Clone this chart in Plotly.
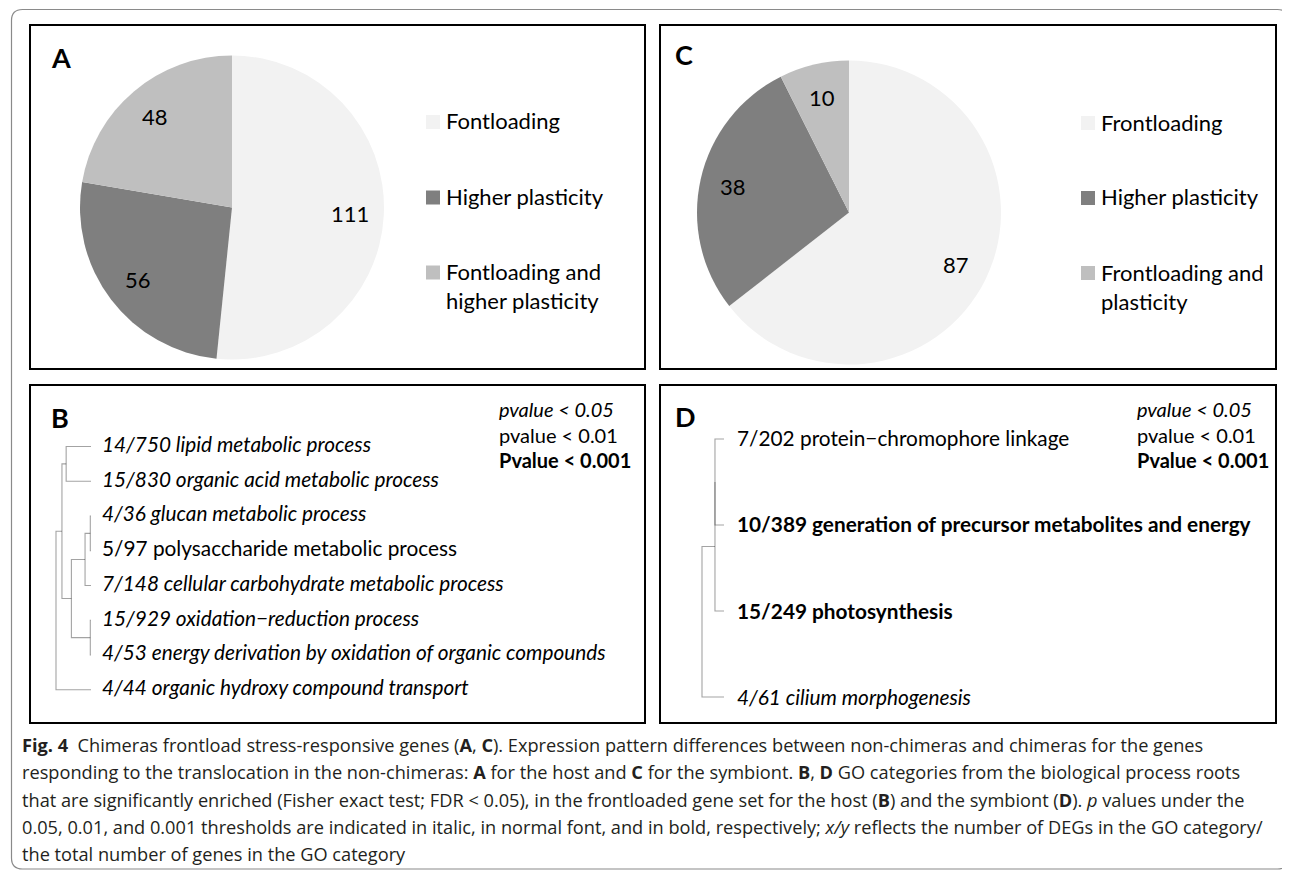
import math
import plotly.graph_objects as go

# The page body has an 8px margin, so the figure is laid out in page pixels
# and shifted by that offset.
OFF = 8
W, H = 1282, 863

# ---------------- data ----------------
pie_labels_A = ["Fontloading", "Higher plasticity", "Fontloading and higher plasticity"]
legend_text_A = ["Fontloading", "Higher plasticity", "Fontloading and<br>higher plasticity"]
pie_values_A = [111, 56, 48]

pie_labels_C = ["Frontloading", "Higher plasticity", "Frontloading and plasticity"]
legend_text_C = ["Frontloading", "Higher plasticity", "Frontloading and<br>plasticity"]
pie_values_C = [87, 38, 10]

slice_colors = ["#f2f2f2", "#7f7f7f", "#bfbfbf"]

go_terms_B = [
    "14/750 lipid metabolic process",
    "15/830 organic acid metabolic process",
    "4/36 glucan metabolic process",
    "5/97 polysaccharide metabolic process",
    "7/148 cellular carbohydrate metabolic process",
    "15/929 oxidation\u2212reduction process",
    "4/53 energy derivation by oxidation of organic compounds",
    "4/44 organic hydroxy compound transport",
]
go_pvalue_level_B = [0.05, 0.05, 0.05, 0.01, 0.05, 0.05, 0.05, 0.05]
# (child a, child b, merge height); leaves 0..7, internal nodes numbered from 8
merges_B = [(0, 1, 0.71), (2, 3, 0.02), (9, 4, 0.17), (5, 6, 0.02),
            (10, 11, 0.56), (8, 12, 0.83), (13, 7, 1.0)]

go_terms_D = [
    "7/202 protein\u2212chromophore linkage",
    "10/389 generation of precursor metabolites and energy",
    "15/249 photosynthesis",
    "4/61 cilium morphogenesis",
]
go_pvalue_level_D = [0.01, 0.001, 0.001, 0.05]
merges_D = [(0, 1, 0.41), (4, 2, 0.41), (5, 3, 1.0)]

pvalue_legend_text = ["pvalue &lt; 0.05", "pvalue &lt; 0.01", "Pvalue &lt; 0.001"]
pvalue_legend_level = [0.05, 0.01, 0.001]

caption_lines = [
    "<b>Fig. 4</b>\u00a0\u00a0Chimeras frontload stress-responsive genes (<b>A</b>, <b>C</b>). Expression pattern differences between non-chimeras and chimeras for the genes",
    "responding to the translocation in the non-chimeras: <b>A</b> for the host and <b>C</b> for the symbiont. <b>B</b>, <b>D</b> GO categories from the biological process roots",
    "that are significantly enriched (Fisher exact test; FDR &lt; 0.05), in the frontloaded gene set for the host (<b>B</b>) and the symbiont (<b>D</b>). <i>p</i> values under the",
    "0.05, 0.01, and 0.001 thresholds are indicated in italic, in normal font, and in bold, respectively; <i>x/y</i> reflects the number of DEGs in the GO category/",
    "the total number of genes in the GO category",
]

# ---------------- helpers ----------------
FONT = "Lato, 'Open Sans', sans-serif"
CAP_FONT = "'Open Sans', 'Noto Sans', sans-serif"


def X(px):
    return (px - OFF) / W


def Y(py):
    return 1 - (py - OFF) / H


def styled(text, level):
    if level <= 0.001:
        return "<b>" + text + "</b>"
    if level <= 0.01:
        return text
    return "<i>" + text + "</i>"


fig = go.Figure()
annotations = []
shapes = []

# ---------------- outer frame ----------------
x0, y0, x1, y1, r = 11.5, 9.5, 1288.5, 869.0, 11.0
pts = [("M", x0 + r, y0), ("L", x1 - r, y0), ("Q", x1, y0, x1, y0 + r), ("L", x1, y1 - r),
       ("Q", x1, y1, x1 - r, y1), ("L", x0 + r, y1), ("Q", x0, y1, x0, y1 - r),
       ("L", x0, y0 + r), ("Q", x0, y0, x0 + r, y0)]
path = ""
for p in pts:
    coords = p[1:]
    s = []
    for i in range(0, len(coords), 2):
        s.append(f"{X(coords[i]):.5f},{Y(coords[i+1]):.5f}")
    path += p[0] + " " + " ".join(s) + " "
path += "Z"
shapes.append(dict(type="path", xref="paper", yref="paper", path=path,
                   line=dict(color="#8a8a8a", width=1.2), layer="below"))

# ---------------- panel boxes ----------------
panels = {"A": (30, 25, 645, 369), "C": (660, 25, 1276, 369),
          "B": (30, 385, 645, 723), "D": (660, 385, 1276, 723)}
for k, (a, b, c, d) in panels.items():
    shapes.append(dict(type="rect", xref="paper", yref="paper",
                       x0=X(a), x1=X(c), y0=Y(d), y1=Y(b),
                       line=dict(color="black", width=2)))

letter_pos = {"A": (61, 57), "C": (684, 55), "B": (60, 417), "D": (685, 416)}
for k, (lx, ly) in letter_pos.items():
    annotations.append(dict(text="<b>" + k + "</b>", x=X(lx), y=Y(ly), xref="paper", yref="paper",
                            showarrow=False, xanchor="center", yanchor="middle",
                            font=dict(family=FONT, size=27, color="black")))


# ---------------- pies ----------------
def add_pie(labels, values, legend_text, cx, cy, rad, leg_x_sq, leg_x_txt, leg_rows):
    fig.add_trace(go.Pie(
        labels=labels, values=values, sort=False, direction="clockwise", rotation=0,
        marker=dict(colors=slice_colors, line=dict(width=0)),
        textinfo="none", hoverinfo="label+value", showlegend=False,
        domain=dict(x=[X(cx - rad), X(cx + rad)], y=[Y(cy + rad), Y(cy - rad)]),
    ))
    total = float(sum(values))
    cum = 0.0
    for v in values:
        mid = (cum + v / 2.0) / total * 2 * math.pi
        lx = cx + 0.78 * rad * math.sin(mid)
        ly = cy - 0.78 * rad * math.cos(mid)
        cum += v
        annotations.append(dict(text=str(v), x=X(lx), y=Y(ly), xref="paper", yref="paper",
                                showarrow=False, xanchor="center", yanchor="middle",
                                font=dict(family=FONT, size=22, color="black")))
    for txt, col, ry in zip(legend_text, slice_colors, leg_rows):
        shapes.append(dict(type="rect", xref="paper", yref="paper",
                           x0=X(leg_x_sq), x1=X(leg_x_sq + 14), y0=Y(ry + 7), y1=Y(ry - 7),
                           fillcolor=col, line=dict(width=0)))
        annotations.append(dict(text=txt, x=X(leg_x_txt), y=Y(ry - 16.5), xref="paper", yref="paper",
                                showarrow=False, xanchor="left", yanchor="top", align="left",
                                font=dict(family=FONT, size=22, color="black")))


add_pie(pie_labels_A, pie_values_A, legend_text_A, 232, 207.5, 152, 426, 444, [122, 197.5, 272.5])
add_pie(pie_labels_C, pie_values_C, legend_text_C, 849, 212.5, 152, 1081, 1099, [123, 198, 273])

# ---------------- dendrograms ----------------
LINE_COL = "rgba(25,25,25,0.40)"
layout_axes = {}


def add_tree(terms, levels, merges, xa, ya, tip_px, px_per_h, y0_px, dy_px,
             hrange, krange, text_dx, text_dy):
    n = len(terms)
    ys = {i: float(i) for i in range(n)}
    hs = {i: 0.0 for i in range(n)}
    for j, (a, b, h) in enumerate(merges):
        node = n + j
        fig.add_trace(go.Scatter(
            x=[hs[a], h, h, hs[b]], y=[ys[a], ys[a], ys[b], ys[b]],
            mode="lines", line=dict(color=LINE_COL, width=1.1),
            hoverinfo="skip", showlegend=False, xaxis=xa, yaxis=ya))
        ys[node] = (ys[a] + ys[b]) / 2.0
        hs[node] = h
    for i, (t, lv) in enumerate(zip(terms, levels)):
        annotations.append(dict(text=styled(t, lv), x=0, y=i, xref=xa, yref=ya,
                                showarrow=False, xanchor="left", yanchor="middle",
                                xshift=text_dx, yshift=text_dy,
                                font=dict(family=FONT, size=20.8, color="black")))
    ax_name = "xaxis" if xa == "x" else "xaxis" + xa[1:]
    ay_name = "yaxis" if ya == "y" else "yaxis" + ya[1:]
    left_px = tip_px - px_per_h * hrange[0]
    right_px = tip_px - px_per_h * hrange[1]
    bot_px = y0_px + dy_px * krange[0]
    top_px = y0_px + dy_px * krange[1]
    layout_axes[ax_name] = dict(domain=[X(left_px), X(right_px)], range=list(hrange),
                                visible=False, fixedrange=True, anchor=ya)
    layout_axes[ay_name] = dict(domain=[Y(bot_px), Y(top_px)], range=list(krange),
                                visible=False, fixedrange=True, anchor=xa)


add_tree(go_terms_B, go_pvalue_level_B, merges_B, "x", "y",
         91.0, 35.0, 446.5, 34.75, (1.25, -0.35), (7.6, -0.6), 9, 3)
add_tree(go_terms_D, go_pvalue_level_D, merges_D, "x2", "y2",
         724.0, 22.0, 439.0, 86.0, (1.4, -0.4), (3.3, -0.3), 11, 1)

# p-value legends
for base_x in (497, 1135):
    for txt, lv, py in zip(pvalue_legend_text, pvalue_legend_level, [409, 435, 460]):
        annotations.append(dict(text=styled(txt, lv), x=X(base_x), y=Y(py), xref="paper", yref="paper",
                                showarrow=False, xanchor="left", yanchor="middle",
                                font=dict(family=FONT, size=20, color="black")))

# ---------------- caption ----------------
for i, line in enumerate(caption_lines):
    annotations.append(dict(text=line, x=X(20), y=Y(745 + 27.3 * i), xref="paper", yref="paper",
                            showarrow=False, xanchor="left", yanchor="middle", align="left",
                            font=dict(family=CAP_FONT, size=18.2, color="#231f20")))

fig.update_layout(
    width=W, height=H, margin=dict(l=0, r=0, t=0, b=0),
    paper_bgcolor="white", plot_bgcolor="rgba(0,0,0,0)",
    showlegend=False, shapes=shapes, annotations=annotations,
    **layout_axes,
)

fig.write_html("out.html")
